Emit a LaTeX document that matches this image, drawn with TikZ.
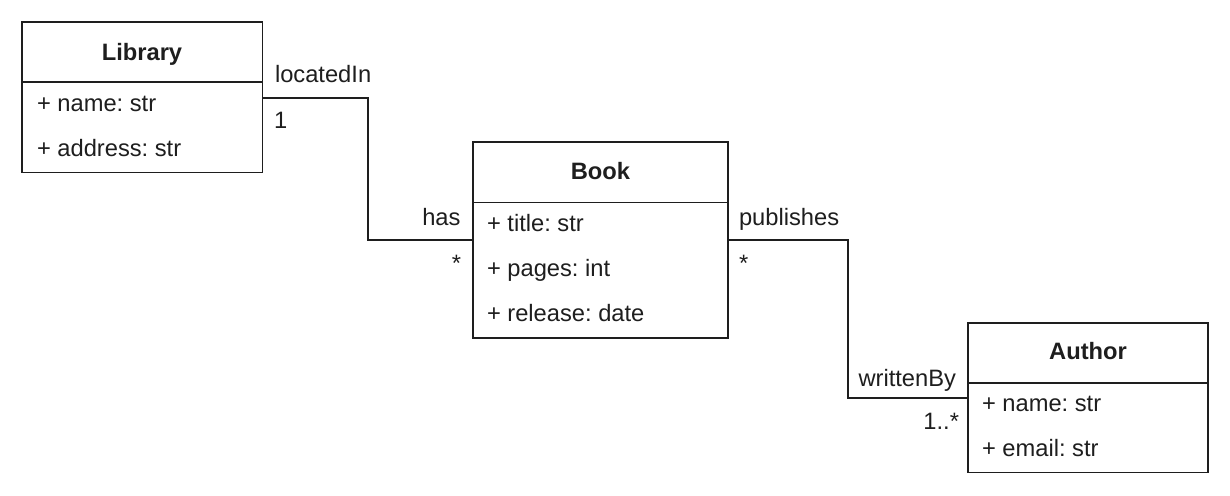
\documentclass[tikz,border=0pt]{standalone}
\usepackage{fontspec}
\setmainfont{Liberation Sans}
\usetikzlibrary{calc}
\definecolor{ink}{HTML}{1E1E1E}
\tikzset{
  classbox/.style={draw=ink, line width=1.3pt, inner sep=0pt, outer sep=0pt, anchor=north west},
  divider/.style={draw=ink, line width=1.3pt},
  conn/.style={draw=ink, line width=1.3pt},
  txt/.style={inner sep=0pt, outer sep=0pt, text=ink, font=\fontsize{23.7}{27}\selectfont},
  ttl/.style={txt, font=\fontsize{23.7}{27}\selectfont\bfseries, anchor=base},
  attr/.style={txt, anchor=base west},
}
\begin{document}
\frenchspacing
\begin{tikzpicture}[x=1pt,y=-1pt]
\useasboundingbox[fill=white] (0,0) rectangle (1230,495);
% Library
\node[classbox, minimum width=240.5pt, minimum height=150.5pt] (lib) at (22,22) {};
\draw[divider] ($(lib.north west)+(0,60)$) -- ($(lib.north east)+(0,60)$);
\node[ttl] (libt) at (142,60) {Library};
\node[attr] (liba1) at (37,111.7) {+ name: str};
\node[attr] (liba2) at (37,156.7) {+ address: str};
% Book
\node[classbox, minimum width=255pt, minimum height=196pt] (book) at (473,142) {};
\draw[divider] ($(book.north west)+(0,60.5)$) -- ($(book.north east)+(0,60.5)$);
\node[ttl] (bookt) at (600.5,179.3) {Book};
\node[attr] (booka1) at (487,231.7) {+ title: str};
\node[attr] (booka2) at (487,276.7) {+ pages: int};
\node[attr] (booka3) at (487,321.7) {+ release: date};
% Author
\node[classbox, minimum width=240pt, minimum height=149.5pt] (auth) at (968,323) {};
\draw[divider] ($(auth.north west)+(0,60)$) -- ($(auth.north east)+(0,60)$);
\node[ttl] (autht) at (1088,359.3) {Author};
\node[attr] (autha1) at (982,411.7) {+ name: str};
\node[attr] (autha2) at (982,456.7) {+ email: str};
% connectors
\coordinate (k1) at (368,98);
\coordinate (k2) at (848,240);
\draw[conn] ($(lib.north east)+(0,76)$) -- (k1) |- ($(book.north west)+(0,98)$);
\draw[conn] ($(book.north east)+(0,98)$) -- (k2) |- ($(auth.north west)+(0,75)$);
% labels
\node[attr] (l1) at (275,82.7) {locatedIn};
\node[attr] (l2) at (274,128.3) {1};
\node[txt, anchor=base east] (l3) at (460.5,225) {has};
\node[txt, anchor=base east] (l4) at (461,271) {*};
\node[attr] (l5) at (739,225) {publishes};
\node[attr] (l6) at (739,271) {*};
\node[txt, anchor=base east] (l7) at (956,386) {writtenBy};
\node[txt, anchor=base east] (l8) at (959,429) {1..*};
\end{tikzpicture}
\end{document}
